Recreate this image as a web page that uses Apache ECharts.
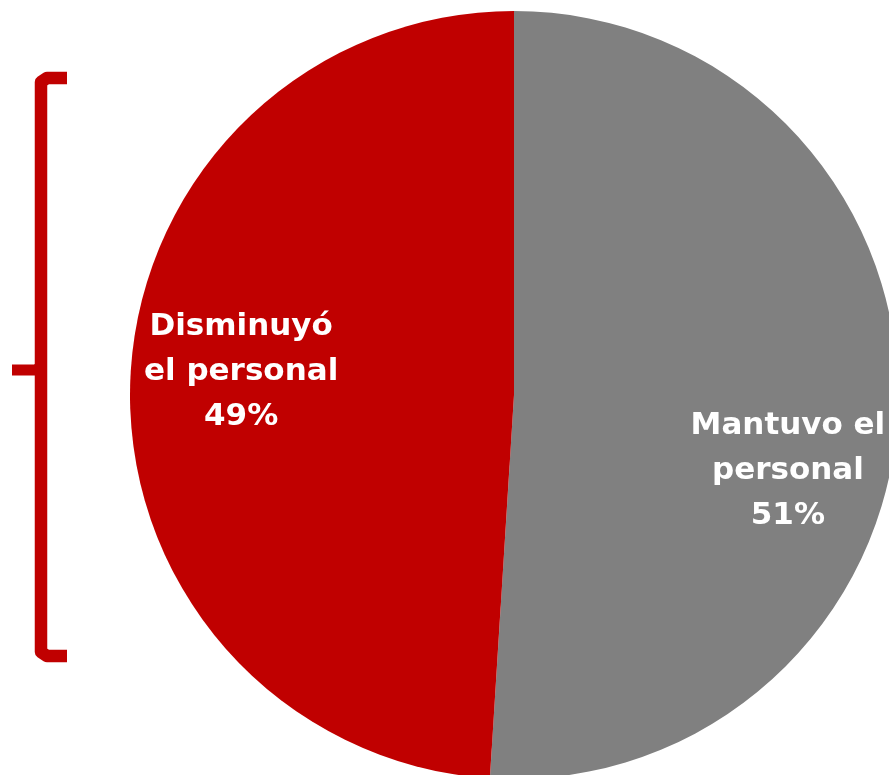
<!DOCTYPE html>
<html>
<head>
<meta charset="utf-8">
<style>
  html, body { margin: 0; padding: 0; background: #fff; }
  #main { width: 889px; height: 775px; }
</style>
<script src="https://cdn.jsdelivr.net/npm/echarts@6/dist/echarts.min.js"></script>
</head>
<body>
<div id="main"></div>
<script>
// datos del gráfico
let categories = ['Mantuvo el personal', 'Disminuyó el personal'];
let labelText = ['Mantuvo el\npersonal', 'Disminuyó\nel personal'];
let values = [51, 49];
let colors = ['#808080', '#C00000'];

// desplazamiento de cada etiqueta respecto a la posición "inside"
let labelShift = [[79, 70], [-78, -17]];

let chart = echarts.init(document.getElementById('main'));

let option = {
    animation: false,
    graphic: [{
        // llave roja a la izquierda
        type: 'polyline',
        shape: {
            points: [[67, 78], [47, 78], [41, 82], [41, 652], [47, 656], [67, 656]]
        },
        style: { stroke: '#C00000', lineWidth: 12.5, fill: null, lineJoin: 'round' }
    }, {
        type: 'polyline',
        shape: { points: [[12, 370], [36, 370], [41, 366]] },
        style: { stroke: '#C00000', lineWidth: 11, fill: null, lineJoin: 'round' }
    }],
    series: [{
        type: 'pie',
        center: [514, 395],
        radius: 384,
        startAngle: 90,
        clockwise: true,
        silent: true,
        data: categories.map(function (name, i) {
            return { name: name, value: values[i], itemStyle: { color: colors[i] } };
        }),
        label: {
            show: true,
            position: 'inside',
            color: '#fff',
            fontFamily: 'DejaVu Sans',
            fontWeight: 'bold',
            fontSize: 31,
            lineHeight: 45,
            align: 'center',
            formatter: function (p) {
                return labelText[p.dataIndex] + '\n' + p.value + '%';
            }
        },
        labelLine: { show: false },
        labelLayout: function (p) {
            return { dx: labelShift[p.dataIndex][0], dy: labelShift[p.dataIndex][1] };
        }
    }]
};

chart.setOption(option, true);
</script>
</body>
</html>
